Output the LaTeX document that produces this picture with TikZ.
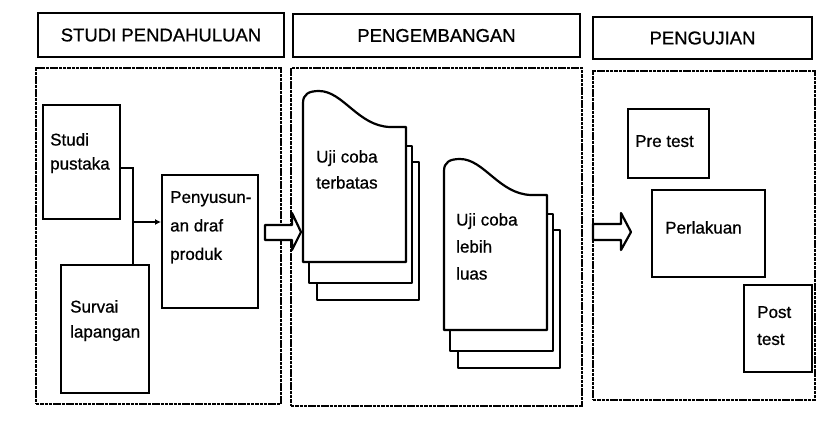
\documentclass[tikz,border=0pt]{standalone}
\usepackage{fontspec}
\setmainfont{Liberation Sans}[FakeBold=0.8]
\usetikzlibrary{arrows.meta}
\tikzset{
  header/.style={draw, line width=2pt, anchor=north west, inner sep=0pt,
    font=\fontsize{18.5}{22}\selectfont},
  panel/.style={draw, line width=1.8pt, dash pattern=on 3.5pt off 0.8pt, anchor=north west, inner sep=0pt},
  box/.style={draw, line width=2.2pt, anchor=north west, inner sep=0pt, fill=white},
  lbl/.style={anchor=north west, inner sep=0pt, align=left},
  conn/.style={line width=2pt},
  blockarrow/.style={draw, line width=2.2pt, fill=white, line join=round},
  page/.style={draw, line width=2.2pt, fill=white, line join=round},
  docstack/.pic={
    \path[page] (14,71) rectangle (116,209);
    \path[page] (6,55) rectangle (109,192);
    \path[page] (0,171) -- (0,12) .. controls (0,3) and (6,0) .. (16,0)
       .. controls (40,0) and (55,35) .. (87,36) -- (103,36) -- (103,171) -- cycle;
  }
}
\begin{document}
\begin{tikzpicture}[x=1pt, y=-1pt]
\useasboundingbox (0,0) rectangle (838,424);
\fill[white] (0,0) rectangle (838,424);

% headers
\node[header, minimum width=246pt, minimum height=44pt] (h1) at (37,12) {STUDI PENDAHULUAN};
\node[header, minimum width=287pt, minimum height=43pt] (h2) at (292,13) {PENGEMBANGAN};
\node[header, minimum width=219pt, minimum height=42pt] (h3) at (592,16) {PENGUJIAN};

% panels
\node[panel, minimum width=245pt, minimum height=336pt] (p1) at (35,67) {};
\node[panel, minimum width=291pt, minimum height=338pt] (p2) at (290,67) {};
\node[panel, minimum width=222pt, minimum height=329pt] (p3) at (592,70) {};

% panel 1
\node[box, minimum width=77pt, minimum height=114pt] (sp) at (42,104) {};
\node[box, minimum width=88pt, minimum height=128pt] (sv) at (60,264) {};
\node[box, minimum width=96pt, minimum height=133pt] (pen) at (161,174) {};

\begin{scope}[font=\fontsize{17}{24}\selectfont]
\node[lbl] (tsp) at (50,133) {Studi\\pustaka};
\node[lbl, font=\fontsize{17}{25}\selectfont] (tsv) at (70,300) {Survai\\lapangan};
\node[lbl, font=\fontsize{17}{28.5}\selectfont] (tpen) at (170,191) {Penyusun-\\an draf\\produk};
\end{scope}

\coordinate (j1) at (133,168);
\coordinate (j2) at (133,222);
\draw[conn] (sp.east |- j1) -- (j1) -- (j1 |- sv.north);
\draw[conn, -{Latex[length=6pt,width=6pt]}] (j2) -- (j2 -| pen.west);

% block arrows
\coordinate (a1) at (265,225);
\coordinate (a2) at (593,224);
\path[blockarrow] (a1) -- ++(27,0) -- ++(0,-12) -- ++(9,19) -- ++(-9,18) -- ++(0,-10) -- ++(-27,0) -- cycle;
\path[blockarrow] (a2) -- ++(28,0) -- ++(0,-11) -- ++(10,19) -- ++(-10,18) -- ++(0,-10) -- ++(-28,0) -- cycle;

% panel 2 documents
\pic (d1) at (303,91) {docstack};
\pic (d2) at (444,159) {docstack};
\begin{scope}[font=\fontsize{17}{26}\selectfont]
\node[lbl] (td1) at (316,150) {Uji coba\\terbatas};
\node[lbl, font=\fontsize{17}{27}\selectfont] (td2) at (456,213) {Uji coba\\lebih\\luas};
\end{scope}

% panel 3
\node[box, minimum width=81pt, minimum height=69pt] (pre) at (627,108) {};
\node[box, minimum width=113pt, minimum height=87pt] (per) at (651,189) {};
\node[box, minimum width=68pt, minimum height=87pt] (post) at (743,284) {};
\begin{scope}[font=\fontsize{17}{27}\selectfont]
\node[lbl] (tpre) at (635,135) {Pre test};
\node[lbl] (tper) at (665,221) {Perlakuan};
\node[lbl] (tpost) at (757,306) {Post\\test};
\end{scope}
\end{tikzpicture}
\end{document}
